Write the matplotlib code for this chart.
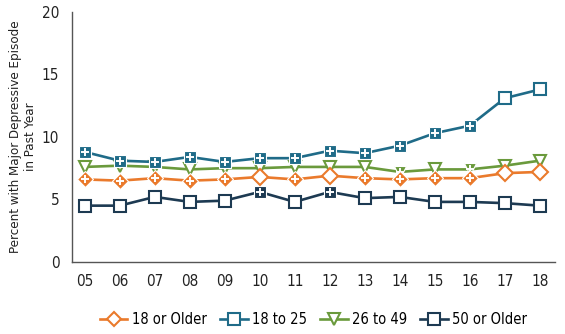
import matplotlib
matplotlib.use("Agg")
import matplotlib.pyplot as plt
from matplotlib.lines import Line2D
import numpy as np

plt.rcParams['font.family'] = ['DejaVu Sans']
plt.rcParams['font.stretch'] = 'condensed'

# survey years (2005 - 2018), labels shown as two digits
years = np.arange(2005, 2019)
year_labels = ['05', '06', '07', '08', '09', '10', '11', '12', '13', '14', '15', '16', '17', '18']

# percent with major depressive episode in past year
older18 = [6.6, 6.5, 6.7, 6.5, 6.6, 6.8, 6.6, 6.9, 6.7, 6.6, 6.7, 6.7, 7.1, 7.2]
age18_25 = [8.8, 8.1, 8.0, 8.4, 8.0, 8.3, 8.3, 8.9, 8.7, 9.3, 10.3, 10.9, 13.1, 13.8]
age26_49 = [7.6, 7.7, 7.6, 7.4, 7.5, 7.5, 7.6, 7.6, 7.6, 7.2, 7.4, 7.4, 7.7, 8.1]
older50 = [4.5, 4.5, 5.2, 4.8, 4.9, 5.6, 4.8, 5.6, 5.1, 5.2, 4.8, 4.8, 4.7, 4.5]

# years marked as significantly different from 2018 (filled marker with +)
sig_older18 = [1, 1, 1, 1, 1, 0, 1, 0, 1, 1, 1, 1, 0, 0]
sig_18_25 = [1, 1, 1, 1, 1, 1, 1, 1, 1, 1, 1, 1, 0, 0]
sig_26_49 = [0, 0, 0, 0, 0, 0, 0, 0, 0, 1, 0, 1, 0, 0]
sig_older50 = [0, 0, 0, 0, 0, 1, 0, 1, 0, 0, 0, 0, 0, 0]

series = [
    # label, values, sig, color, marker, size, zorder
    ('26 to 49', age26_49, sig_26_49, '#6a9a3c', 'v', 9, 3),
    ('50 or Older', older50, sig_older50, '#1d3a52', 's', 8.5, 4),
    ('18 or Older', older18, sig_older18, '#ea7a2c', 'D', 8, 5),
    ('18 to 25', age18_25, sig_18_25, '#1f6b88', 's', 8.5, 6),
]

fig = plt.figure(figsize=(5.65, 3.34), dpi=100)
ax = fig.add_axes([0.127, 0.216, 0.855, 0.748])

for label, vals, sig, color, marker, ms, z in series:
    vals = np.array(vals)
    sig = np.array(sig, dtype=bool)
    ax.plot(years, vals, color=color, lw=1.9, zorder=z)
    # open markers
    ax.plot(years[~sig], vals[~sig], ls='none', marker=marker, ms=ms,
            mfc='white', mec=color, mew=1.5, zorder=z + 0.1)
    # filled markers with a white plus
    ax.plot(years[sig], vals[sig], ls='none', marker=marker, ms=ms,
            mfc=color, mec='white', mew=0.8, zorder=z + 0.1)
    ax.plot(years[sig], vals[sig], ls='none', marker='+', ms=ms * 0.7,
            mec='white', mew=1.4, zorder=z + 0.2)

ax.set_xlim(2004.63, 2018.43)
ax.set_ylim(0, 20)
ax.set_yticks([0, 5, 10, 15, 20])
ax.set_xticks(years)
ax.set_xticklabels(year_labels)
ax.tick_params(length=0, labelsize=11, pad=9, colors='#222222')
ax.tick_params(axis='y', pad=9)
for s in ['top', 'right']:
    ax.spines[s].set_visible(False)
for s in ['left', 'bottom']:
    ax.spines[s].set_color('#555555')
    ax.spines[s].set_linewidth(1.0)

ax.set_ylabel('Percent with Major Depressive Episode\nin Past Year', fontsize=9.5,
              color='#222222', linespacing=1.15)
ax.yaxis.set_label_coords(-0.072, 0.5)

# legend in original order
order = ['18 or Older', '18 to 25', '26 to 49', '50 or Older']
info = {s[0]: s for s in series}
handles = []
for name in order:
    _, _, _, color, marker, ms, _ = info[name]
    handles.append(Line2D([0], [0], color=color, lw=1.9, marker=marker, ms=ms * 0.95,
                          mfc='white', mec=color, mew=1.5))
fig.legend(handles, order, loc='lower center', bbox_to_anchor=(0.555, -0.018),
           ncol=4, frameon=False, fontsize=10.5, handlelength=1.9,
           columnspacing=0.9, handletextpad=0.3)

fig.savefig('out.png', dpi=100)
